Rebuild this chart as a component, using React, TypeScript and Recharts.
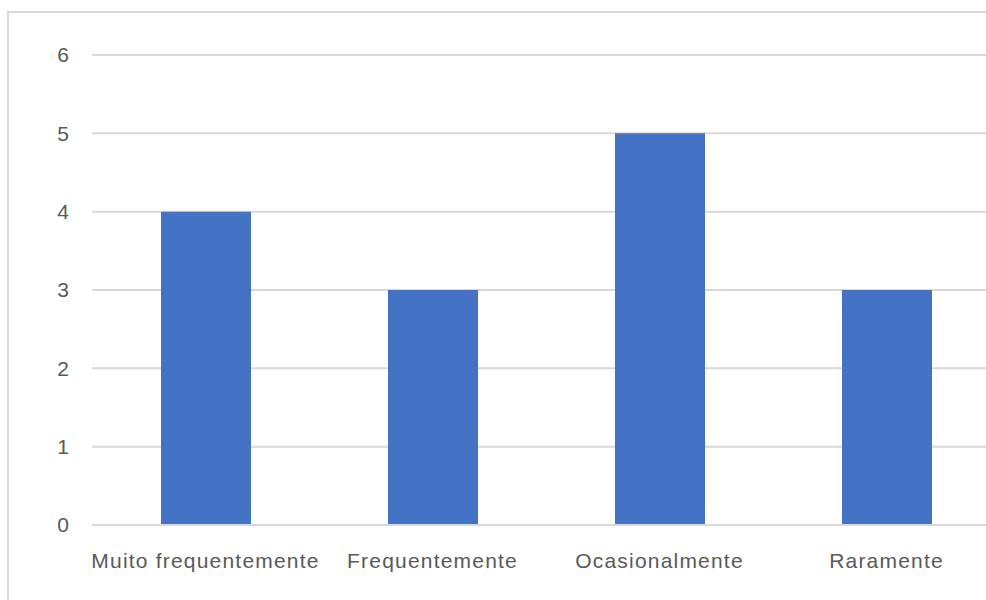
import React from 'react'
import { Bar, BarChart, CartesianGrid, XAxis, YAxis } from 'recharts'

const categories = [
  'Muito frequentemente',
  'Frequentemente',
  'Ocasionalmente',
  'Raramente',
]
const counts = [4, 3, 5, 3]
const yTicks = [0, 1, 2, 3, 4, 5, 6]

const data = categories.map((name, i) => ({ name, value: counts[i] }))

const gridColor = '#d9d9d9'
const textColor = '#595959'
const fontFamily = '"Liberation Sans", Arial, sans-serif'

const App: React.FC = () => (
  <div
    style={{
      position: 'fixed',
      left: 0,
      top: 0,
      width: 986,
      height: 600,
      overflow: 'hidden',
      background: '#fff',
    }}
  >
    {/* chart frame, right and bottom edges fall outside the view */}
    <div
      style={{
        position: 'absolute',
        left: 7,
        top: 11,
        width: 1040,
        height: 640,
        border: `2px solid ${gridColor}`,
      }}
    />
    <div style={{ position: 'absolute', left: 0, top: 0 }}>
      <BarChart
        width={1000}
        height={600}
        data={data}
        margin={{ top: 55, right: 0, bottom: 30, left: 0 }}
        barSize={90}
      >
        <CartesianGrid
          vertical={false}
          stroke={gridColor}
          strokeWidth={2}
        />
        <XAxis
          dataKey="name"
          height={45}
          axisLine={{ stroke: gridColor, strokeWidth: 2 }}
          tickLine={false}
          tickSize={0}
          tickMargin={28}
          interval={0}
          tick={{
            fill: textColor,
            fontSize: 21,
            fontFamily,
            letterSpacing: 1.2,
          }}
        />
        <YAxis
          width={92}
          domain={[0, 6]}
          ticks={yTicks}
          axisLine={false}
          tickLine={false}
          tickSize={0}
          tickMargin={23}
          tick={{ fill: textColor, fontSize: 21, fontFamily }}
        />
        <Bar dataKey="value" fill="#4472C4" isAnimationActive={false} />
      </BarChart>
    </div>
  </div>
)

export default App
